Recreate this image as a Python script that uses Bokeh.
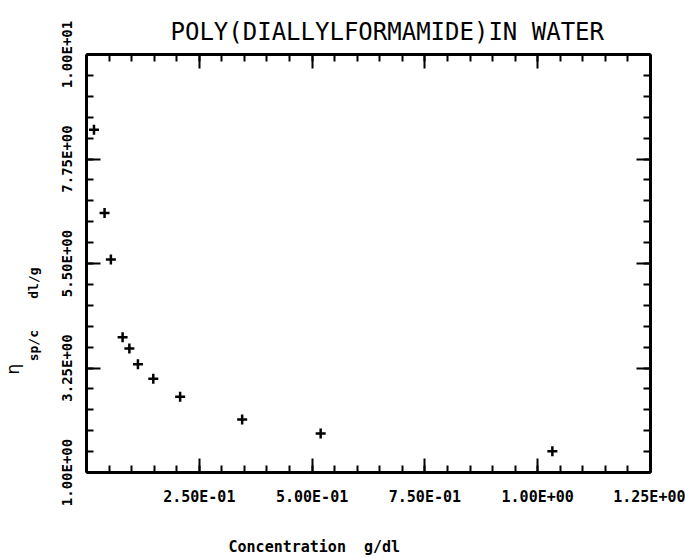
from bokeh.embed import file_html
from bokeh.models import FixedTicker, LinearAxis, Range1d, Title
from bokeh.plotting import figure
from bokeh.resources import INLINE

# Reduced viscosity of poly(diallylformamide) in water
concentration = [0.0166, 0.040, 0.054, 0.080, 0.095, 0.114, 0.148, 0.2075, 0.345, 0.519, 1.0325]
eta_sp_c = [8.38, 6.59, 5.585, 3.91, 3.67, 3.33, 3.02, 2.63, 2.14, 1.84, 1.46]

x_ticks = [0.25, 0.50, 0.75, 1.00, 1.25]
x_tick_labels = ["2.50E-01", "5.00E-01", "7.50E-01", "1.00E+00", "1.25E+00"]
x_minor = [round(0.05 * i, 2) for i in range(26)]

y_ticks = [1.0, 3.25, 5.5, 7.75, 10.0]
y_tick_labels = ["1.00E+00", "3.25E+00", "5.50E+00", "7.75E+00", "1.00E+01"]
y_minor = [round(1.0 + 0.45 * i, 2) for i in range(21)]

W, H = 685, 558
LEFT, RIGHT, TOP, BOTTOM = 86, 35, 54, 86
NBSP = "\u00a0"

p = figure(
    width=W, height=H,
    output_backend="svg", toolbar_location=None,
    x_range=Range1d(0, 1.25), y_range=Range1d(1.0, 10.0),
    x_axis_type=None, y_axis_type=None,
    min_border_left=LEFT, min_border_right=RIGHT,
    min_border_top=TOP, min_border_bottom=BOTTOM,
    background_fill_color="white", border_fill_color="white",
    outline_line_color=None,
)
p.xgrid.visible = False
p.ygrid.visible = False

TICK_FONT = "DejaVu Sans Mono"


def style_axis(ax, show_labels, label_size="14px"):
    ax.axis_line_width = 3
    ax.axis_line_color = "black"
    ax.major_tick_in = 14
    ax.major_tick_out = 0
    ax.minor_tick_in = 7
    ax.minor_tick_out = 0
    ax.major_tick_line_width = 2
    ax.minor_tick_line_width = 2
    ax.major_tick_line_color = "black"
    ax.minor_tick_line_color = "black"
    ax.major_label_text_font = TICK_FONT
    ax.major_label_text_font_style = "bold"
    ax.major_label_text_font_size = label_size
    ax.major_label_text_color = "black"
    if not show_labels:
        ax.major_label_text_alpha = 0
        ax.major_label_standoff = 0


x_ticker = FixedTicker(ticks=x_ticks, minor_ticks=x_minor)
y_ticker = FixedTicker(ticks=y_ticks, minor_ticks=y_minor)

# bottom axis, with the x title as its axis label (padded to sit left of centre)
xb = LinearAxis(ticker=x_ticker)
style_axis(xb, True, "15px")
xb.major_label_overrides = dict(zip(x_ticks, x_tick_labels))
xb.major_label_standoff = 15
xb.axis_label = "Concentration" + NBSP * 2 + "g/dl" + NBSP * 12
xb.axis_label_text_font = TICK_FONT
xb.axis_label_text_font_style = "bold"
xb.axis_label_text_font_size = "15px"
xb.axis_label_text_color = "black"
xb.axis_label_standoff = 29
p.add_layout(xb, "below")

xt = LinearAxis(ticker=x_ticker)
style_axis(xt, False)
p.add_layout(xt, "above")

yl = LinearAxis(ticker=y_ticker)
style_axis(yl, True)
yl.major_label_overrides = dict(zip(y_ticks, y_tick_labels))
yl.major_label_orientation = "parallel"
yl.major_label_standoff = 12
# subscript part of the reduced-viscosity symbol, followed by the units
yl.axis_label = "sp/c" + NBSP * 4 + "dl/g" + NBSP * 13
yl.axis_label_text_font = TICK_FONT
yl.axis_label_text_font_style = "bold"
yl.axis_label_text_font_size = "13px"
yl.axis_label_text_color = "black"
yl.axis_label_standoff = 15
p.add_layout(yl, "left")

yr = LinearAxis(ticker=y_ticker)
style_axis(yr, False)
p.add_layout(yr, "right")

# data points as plus marks
p.scatter(concentration, eta_sp_c, marker="cross", size=10,
          line_width=2.5, line_color="black")

# chart title
p.title.text = "POLY(DIALLYLFORMAMIDE)IN WATER"
p.title.align = "left"
p.title.offset = 84
p.title.standoff = 18
p.title.text_font = "DejaVu Sans Mono"
p.title.text_font_size = "24px"
p.title.text_font_style = "normal"
p.title.text_color = "black"

# eta symbol of the y axis title
p.add_layout(Title(
    text="η", align="left", offset=98, standoff=0,
    text_font="DejaVu Sans", text_font_style="normal", text_font_size="17px",
    text_color="black",
), "left")

open("out.html", "w").write(file_html(p, INLINE))
